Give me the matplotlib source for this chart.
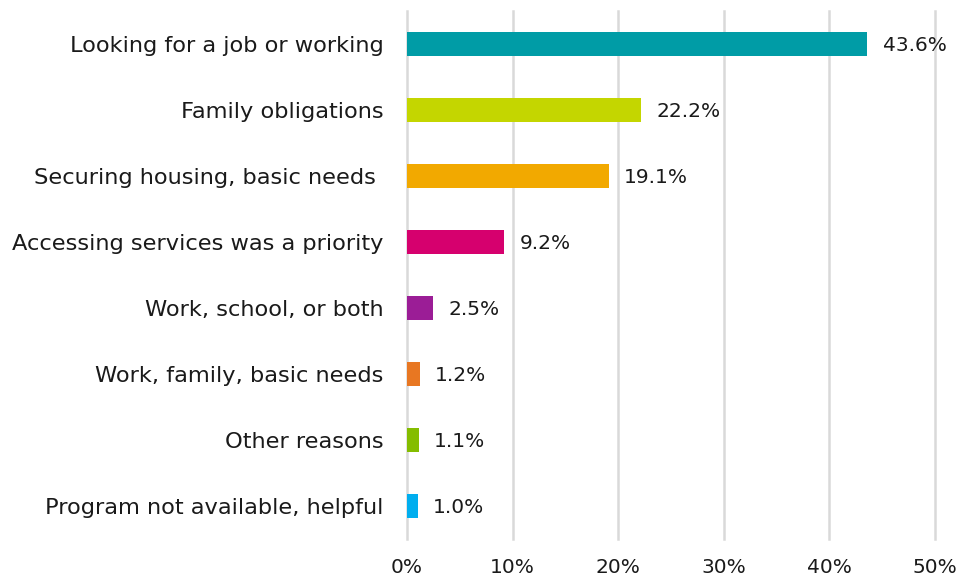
import matplotlib
matplotlib.use('Agg')
import matplotlib.pyplot as plt
from matplotlib.ticker import FuncFormatter

categories = ['Looking for a job or working', 'Family obligations', 'Securing housing, basic needs ',
              'Accessing services was a priority', 'Work, school, or both', 'Work, family, basic needs',
              'Other reasons', 'Program not available, helpful']
values = [43.6, 22.2, 19.1, 9.2, 2.5, 1.2, 1.1, 1.0]
colors = ['#009CA6', '#C4D600', '#F2A900', '#D6006E', '#9B1D96', '#E87722', '#84BD00', '#00AEEF']
xticks = [0, 10, 20, 30, 40, 50]

plt.rcParams['font.family'] = ['DejaVu Sans']

fig = plt.figure(figsize=(9.6, 5.82), dpi=100)
ax = fig.add_axes([0.424, 0.074, 0.550, 0.907])

ypos = list(range(len(categories)))
ax.barh(ypos, values, height=0.36, color=colors, zorder=3)
for y, v in zip(ypos, values):
    ax.annotate(f'{v:.1f}%', (v, y), xytext=(11, -1), textcoords='offset points',
                va='center', ha='left', fontsize=14.5, color='#1a1a1a')

ax.set_xlim(0, 50)
ax.set_ylim(len(categories) - 0.5, -0.5)
ax.set_yticks(ypos)
ax.set_yticklabels(categories, fontsize=16.2, color='#1a1a1a')
ax.set_xticks(xticks)
ax.xaxis.set_major_formatter(FuncFormatter(lambda x, p: f'{x:.0f}%'))
ax.tick_params(axis='x', labelsize=14.5, colors='#1a1a1a', length=0, pad=14)
ax.tick_params(axis='y', length=0, pad=17)
ax.grid(axis='x', color='#d9d9d9', linewidth=1.8, zorder=0)
for gl in ax.get_xgridlines():
    gl.set_clip_on(False)
for s in ax.spines.values():
    s.set_visible(False)

fig.savefig('out.png', dpi=100)
